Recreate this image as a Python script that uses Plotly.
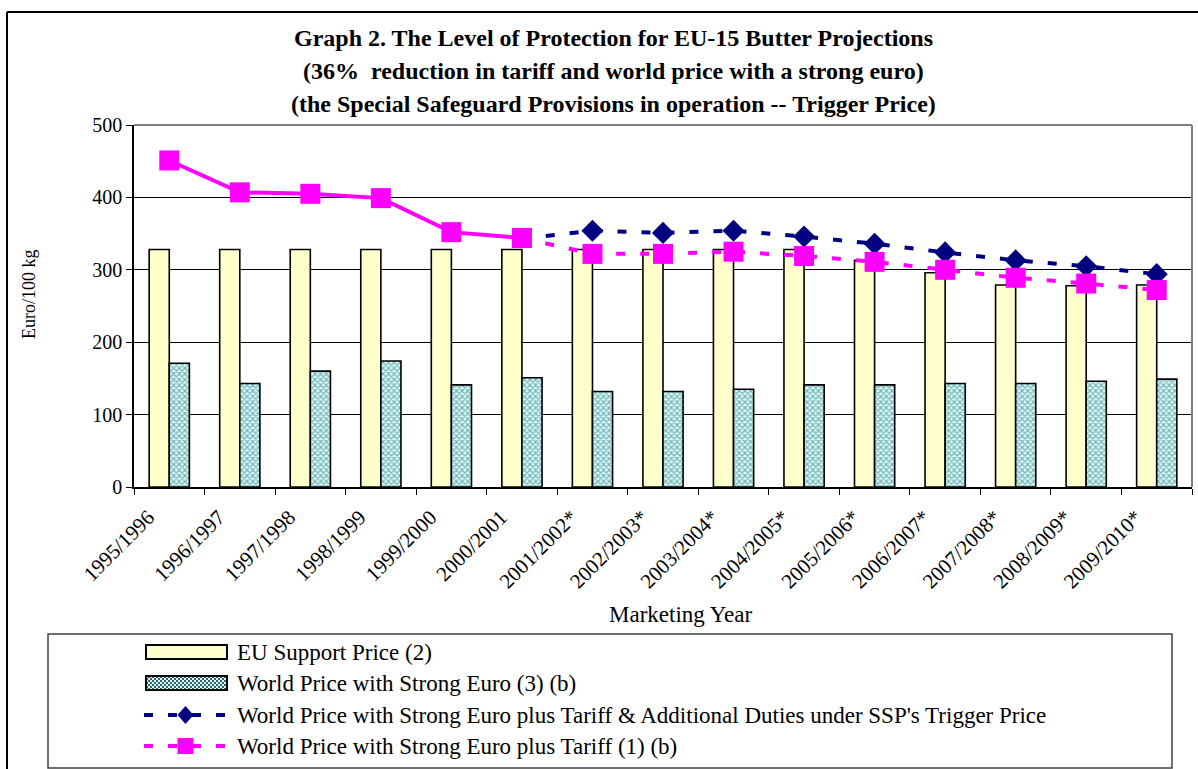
import plotly.graph_objects as go

# ---------------- data ----------------
years = ["1995/1996", "1996/1997", "1997/1998", "1998/1999", "1999/2000", "2000/2001",
         "2001/2002*", "2002/2003*", "2003/2004*", "2004/2005*", "2005/2006*",
         "2006/2007*", "2007/2008*", "2008/2009*", "2009/2010*"]
eu_support = [328, 328, 328, 328, 328, 328, 328, 328, 328, 328, 313, 296, 279, 278, 279]
world_strong = [171, 143, 160, 174, 141, 151, 132, 132, 135, 141, 141, 143, 143, 146, 149]
ssp_trigger = [None, None, None, None, None, 343, 354, 351, 354, 346, 336, 324, 313, 305, 294]
tariff_price = [451, 407, 405, 399, 352, 344, 322, 322, 325, 319, 311, 300, 289, 281, 272]

legend_names = [
    "EU Support Price (2)",
    "World Price with Strong Euro (3) (b)",
    "World Price with Strong Euro plus Tariff & Additional Duties under SSP's Trigger Price",
    "World Price with Strong Euro plus Tariff (1) (b)",
]

# ---------------- geometry helpers ----------------
W, H = 1198, 769
L, R, T, B = 134, 1192, 125, 487
def px(x):
    return (x - L) / (R - L)
def py(y):
    return (B - y) / (B - T)

FONT = "Liberation Serif, Times New Roman, serif"
PINK = "#FF00FF"
NAVY = "#000080"
EU_FILL = "#FFFFCC"
WP_FILL = "#CCFFFF"
HATCH = "#3f5a5a"
DASH = "9px,15px"

fig = go.Figure()

fig.add_trace(go.Bar(
    x=years, y=eu_support, name=legend_names[0],
    marker=dict(color=EU_FILL, line=dict(color="black", width=1.6)),
))
fig.add_trace(go.Bar(
    x=years, y=world_strong, name=legend_names[1],
    marker=dict(color=WP_FILL, line=dict(color="black", width=1.6),
                pattern=dict(shape="x", fgcolor=HATCH, bgcolor=WP_FILL,
                             size=4, solidity=0.5)),
))

split = next(i for i, v in enumerate(ssp_trigger) if v is not None)
navy_sizes = [0 if i == split else 17 for i in range(len(years))]
fig.add_trace(go.Scatter(
    x=years, y=ssp_trigger, mode="lines+markers", name=legend_names[2],
    line=dict(color=NAVY, width=4, dash=DASH),
    marker=dict(symbol="diamond", size=navy_sizes, color=NAVY, opacity=1, line=dict(width=0)),
))
fig.add_trace(go.Scatter(
    x=years[:split + 1], y=tariff_price[:split + 1], mode="lines+markers",
    line=dict(color=PINK, width=4),
    marker=dict(symbol="square", size=20, color=PINK, opacity=1, line=dict(width=0)),
    name=legend_names[3],
))
fig.add_trace(go.Scatter(
    x=years[split:], y=tariff_price[split:], mode="lines+markers", name=legend_names[3],
    line=dict(color=PINK, width=4, dash=DASH),
    marker=dict(symbol="square", size=20, color=PINK, opacity=1, line=dict(width=0)),
))

def hline(x0, x1, y, color, width, dash=None):
    d = dict(type="line", xref="paper", yref="paper", x0=px(x0), x1=px(x1),
             y0=py(y), y1=py(y), line=dict(color=color, width=width))
    if dash:
        d["line"]["dash"] = dash
    return d

shapes = [
    # outer chart frame
    hline(7, 1210, 12, "black", 2),
    dict(type="line", xref="paper", yref="paper", x0=px(7), x1=px(7), y0=py(12), y1=py(790),
         line=dict(color="black", width=2)),
    # plot area top/right border (gray)
    dict(type="line", xref="paper", yref="paper", x0=0, x1=1, y0=1, y1=1,
         line=dict(color="#808080", width=2), layer="above"),
    dict(type="line", xref="paper", yref="paper", x0=1, x1=1, y0=0, y1=1,
         line=dict(color="#808080", width=2), layer="above"),
    # legend box
    dict(type="rect", xref="paper", yref="paper", x0=px(48), x1=px(1172), y0=py(634), y1=py(768),
         line=dict(color="#404040", width=1.5)),
]

# ---- manual legend (symbols) ----
rows = [652, 683, 715, 746]
sx0, sx1 = 146, 227
shapes.append(dict(type="rect", xref="paper", yref="paper", x0=px(sx0), x1=px(sx1),
                   y0=py(rows[0] - 7), y1=py(rows[0] + 7),
                   fillcolor=EU_FILL, line=dict(color="black", width=2)))
# hatched rectangle
ry0, ry1 = rows[1] - 7, rows[1] + 7
shapes.append(dict(type="rect", xref="paper", yref="paper", x0=px(sx0), x1=px(sx1),
                   y0=py(ry0), y1=py(ry1), fillcolor=WP_FILL, line=dict(width=0)))
segs = []
step = 4
hh = ry1 - ry0
for c in range(int(sx0 - hh), int(sx1) + 1, step):
    for sgn in (1, -1):
        if sgn == 1:
            xa, ya, xb, yb = c, ry1, c + hh, ry0
        else:
            xa, ya, xb, yb = c, ry0, c + hh, ry1
        if xb < sx0 or xa > sx1:
            continue
        if xa < sx0:
            t = (sx0 - xa) / (xb - xa)
            ya = ya + t * (yb - ya); xa = sx0
        if xb > sx1:
            t = (sx1 - xa) / (xb - xa)
            yb = ya + t * (yb - ya); xb = sx1
        segs.append("M%.5f,%.5f L%.5f,%.5f" % (px(xa), py(ya), px(xb), py(yb)))
shapes.append(dict(type="path", xref="paper", yref="paper", path=" ".join(segs),
                   line=dict(color=HATCH, width=1)))
shapes.append(dict(type="rect", xref="paper", yref="paper", x0=px(sx0), x1=px(sx1),
                   y0=py(ry0), y1=py(ry1), line=dict(color="black", width=2)))
# dashed line symbols
lx0, lx1, lc = 144, 225, 185.5
shapes.append(hline(lx0, lx1, rows[2], NAVY, 4, DASH))
shapes.append(dict(type="path", xref="paper", yref="paper",
                   path="M%f,%f L%f,%f L%f,%f L%f,%f Z" % (
                       px(lc - 8), py(rows[2]), px(lc), py(rows[2] - 9),
                       px(lc + 8), py(rows[2]), px(lc), py(rows[2] + 9)),
                   fillcolor=NAVY, line=dict(width=0)))
shapes.append(hline(lx0, lx1, rows[3], PINK, 4, DASH))
shapes.append(dict(type="rect", xref="paper", yref="paper", x0=px(lc - 8), x1=px(lc + 8),
                   y0=py(rows[3] - 8), y1=py(rows[3] + 8), fillcolor=PINK, line=dict(width=0)))

title_lines = [
    "Graph 2. The Level of Protection for EU-15 Butter Projections",
    "(36%  reduction in tariff and world price with a strong euro)",
    "(the Special Safeguard Provisions in operation -- Trigger Price)",
]
title_y = [38, 71, 104]
annotations = [
    dict(text="<b>%s</b>" % t, xref="paper", yref="paper", x=px(613), y=py(yy),
         xanchor="center", yanchor="middle", showarrow=False,
         font=dict(family=FONT, size=24, color="black"))
    for t, yy in zip(title_lines, title_y)
]
annotations.append(dict(text="Euro/100 kg", xref="paper", yref="paper", x=px(29), y=py(294),
                        textangle=-90, xanchor="center", yanchor="middle", showarrow=False,
                        font=dict(family=FONT, size=18, color="black")))
annotations.append(dict(text="Marketing Year", xref="paper", yref="paper", x=px(680), y=py(614),
                        xanchor="center", yanchor="middle", showarrow=False,
                        font=dict(family=FONT, size=23, color="black")))
for name, ry in zip(legend_names, rows):
    annotations.append(dict(text=name, xref="paper", yref="paper", x=px(235), y=py(ry),
                            xanchor="left", yanchor="middle", showarrow=False,
                            font=dict(family=FONT, size=23, color="black")))

fig.update_layout(
    width=W, height=H,
    margin=dict(l=L, r=W - R, t=T, b=H - B, autoexpand=False),
    paper_bgcolor="white", plot_bgcolor="white",
    barmode="group", bargap=0.43, bargroupgap=0,
    font=dict(family=FONT, color="black"),
    showlegend=False,
    shapes=shapes,
    annotations=annotations,
)
fig.update_xaxes(
    type="category", range=[-0.5, len(years) - 0.5],
    showline=True, linecolor="black", linewidth=1.5,
    ticks="outside", ticklen=6, tickcolor="black", tickson="boundaries",
    tickangle=-45, tickfont=dict(family=FONT, size=21, color="black"),
    ticklabelshift=-21, ticklabelstandoff=8,
    showgrid=False, zeroline=False,
)
fig.update_yaxes(
    range=[0, 500], dtick=100, showline=True, linecolor="black", linewidth=1.5,
    ticks="outside", ticklen=6, tickcolor="black",
    tickfont=dict(family=FONT, size=20, color="black"),
    showgrid=True, gridcolor="black", gridwidth=1, zeroline=False,
)

fig.write_html("out.html", config={"displayModeBar": False},
               post_script="document.body.style.margin='0';document.body.style.padding='0';")
